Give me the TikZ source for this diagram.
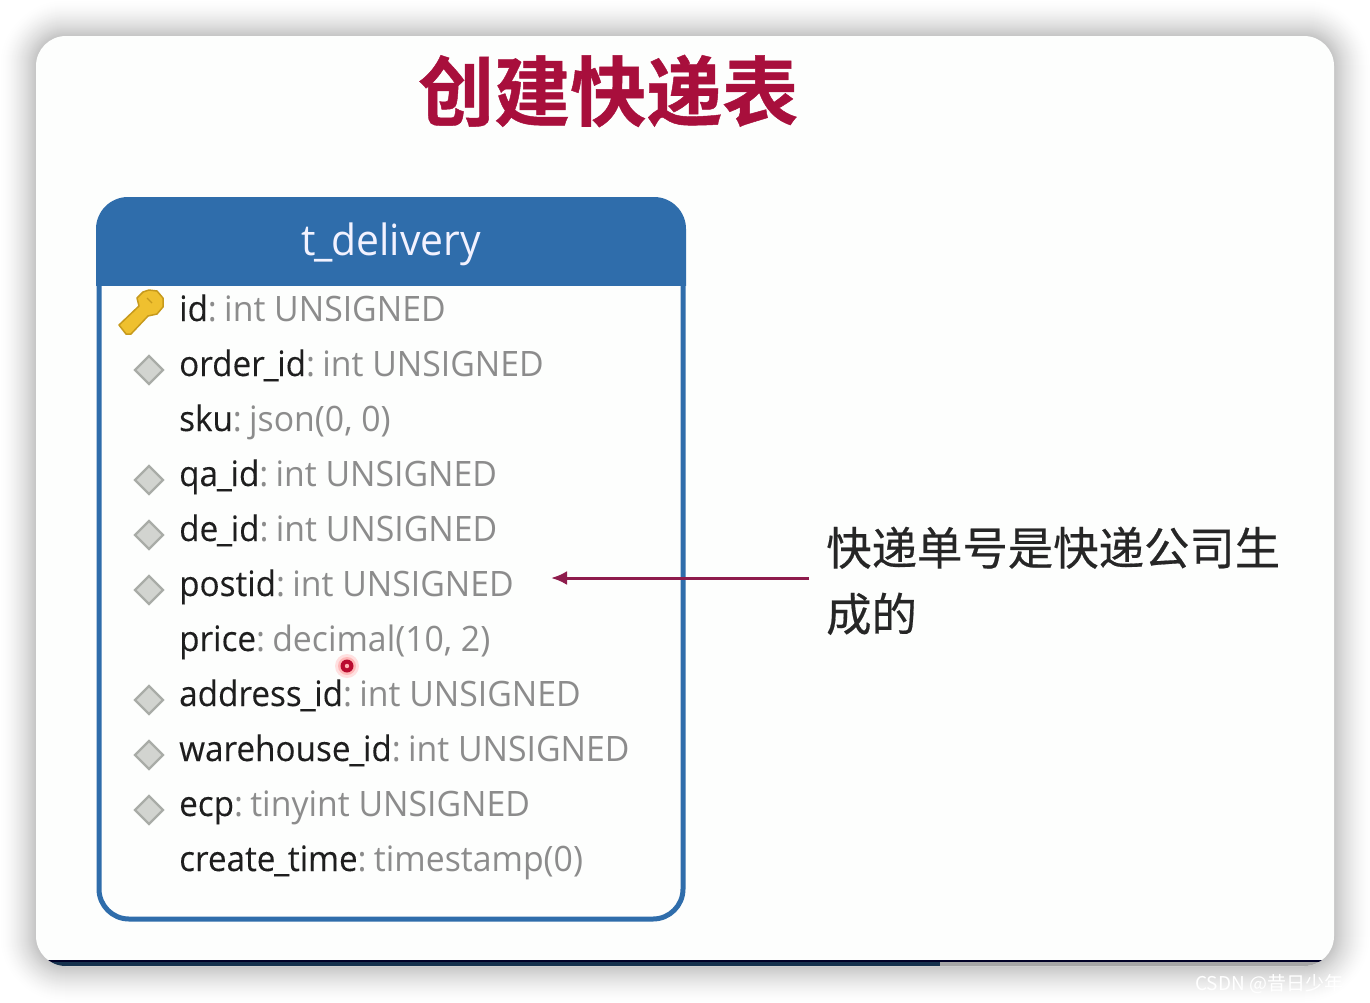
\documentclass[tikz,border=0pt]{standalone}
\usepackage{fontspec}
\setmainfont{Open Sans}
\newfontfamily\namef[FakeStretch=0.95,FakeBold=0.15]{Open Sans}
\newfontfamily\headf[FakeStretch=0.95]{Open Sans}
\newfontfamily\typef[FakeStretch=0.965]{Open Sans}
\newfontfamily\cjk[FakeBold=0.4]{Noto Sans CJK SC}
\newfontfamily\cjkw{Noto Sans CJK SC}
\newfontfamily\cjkb[FakeBold=0.6]{Noto Sans CJK SC Bold}
\definecolor{cardc}{HTML}{FDFEFD}
\definecolor{tblue}{HTML}{2F6DAB}
\definecolor{crim}{HTML}{A80F3C}
\definecolor{arrowc}{HTML}{8E1C4C}
\definecolor{namec}{HTML}{1E1E1E}
\definecolor{typec}{HTML}{8C8C8C}
\definecolor{diamf}{HTML}{D2D4D0}
\definecolor{diamd}{HTML}{A9ACA7}
\definecolor{keyf}{HTML}{EFC02F}
\definecolor{keyd}{HTML}{C79A1C}
\tikzset{
  x=1pt,y=-1pt,
  rowtext/.style={anchor=base west,inner sep=0pt,font=\fontsize{35}{40}\selectfont,text=namec},
  fk/.style={diamond,minimum width=29pt,minimum height=29pt,inner sep=0pt,fill=diamf,draw=diamd,line width=2.4pt},
  note/.style={anchor=base west,inner sep=0pt,font=\cjk\fontsize{45.4}{50}\selectfont,text=black!85},
}
\usetikzlibrary{shapes.geometric,arrows.meta}
\newcommand{\us}{\kern-1.2pt\_\kern-1.2pt}
\newcommand{\rw}[2]{{\namef #1}\textcolor{typec}{\typef:\ \kern-1.5pt #2}}
\begin{document}
\begin{tikzpicture}
\useasboundingbox (0,0) rectangle (1370,1002);
\fill[white] (0,0) rectangle (1370,1002);
% soft shadow
\foreach \k in {0,1,...,35}{
  \pgfmathsetmacro{\off}{36-\k}
  \definecolor{shc}{gray}{\fpeval{1-0.22*((\k+1)/36)^1.6}}
  \fill[shc,rounded corners={(30+\off)*1pt}] ({36-\off},{36-\off}) rectangle ({1334+\off},{966+\off});
}
% card
\fill[cardc,rounded corners=30pt] (36,36) rectangle (1334,966);
\begin{scope}
  \clip[rounded corners=30pt] (36,36) rectangle (1334,966);
  \fill[gray!70] (36,962) rectangle (1334,966);
  \fill[black!85!blue] (36,960) rectangle (1334,962);
  \fill[black!55!tblue] (36,962) rectangle (940,966);
\end{scope}
% title
\node[name=title,anchor=base west,inner sep=0pt,font=\cjkb\fontsize{76}{80}\selectfont,text=crim] at (418,120) {创建快递表};
% table
\draw[tblue,line width=5pt,rounded corners=30pt,fill=cardc] (99,200) rectangle (683,919);
\begin{scope}
  \clip (90,190) rectangle (690,285);
  \fill[tblue,rounded corners=32pt] (96,197) rectangle (686,400);
\end{scope}
\node[name=header,inner sep=0pt,text=white!95!blue,font=\headf\fontsize{43}{48}\selectfont,anchor=base] at (391,255) {t\us delivery};
% rows
\node[rowtext,name=r1] at (179,321) {\rw{id}{int UNSIGNED}};
\node[rowtext,name=r2] at (179,376) {\rw{order\us id}{int UNSIGNED}};
\node[rowtext,name=r3] at (179,431) {\rw{sku}{json(0, 0)}};
\node[rowtext,name=r4] at (179,486) {\rw{qa\us id}{int UNSIGNED}};
\node[rowtext,name=r5] at (179,541) {\rw{de\us id}{int UNSIGNED}};
\node[rowtext,name=r6] at (179,596) {\rw{postid}{int UNSIGNED}};
\node[rowtext,name=r7] at (179,651) {\rw{price}{decimal(10, 2)}};
\node[rowtext,name=r8] at (179,706) {\rw{address\us id}{int UNSIGNED}};
\node[rowtext,name=r9] at (179,761) {\rw{warehouse\us id}{int UNSIGNED}};
\node[rowtext,name=r10] at (179,816) {\rw{ecp}{tinyint UNSIGNED}};
\node[rowtext,name=r11] at (179,871) {\rw{create\us time}{timestamp(0)}};
% foreign-key diamonds
\foreach \n/\yy in {d2/370,d4/480,d5/535,d6/590,d8/700,d9/755,d10/810}{
  \node[fk,name=\n] at (149,\yy) {};
}
% key icon
\draw[keyd,line width=1.5pt,fill=keyf,line join=round]
  (119,325) -- (139,306) -- (137,298) -- (143,292) -- (149,290) -- (157,291) -- (163,298) -- (163,307) -- (157,314) -- (148,316) -- (131,334) -- (126,334) -- cycle;
\draw[keyd,line width=1.2pt] (147,298) -- (152,303);
% annotation
\node[note,name=n1] at (826,565) {快递单号是快递公司生};
\node[note,name=n2] at (826,631) {成的};
\coordinate (af) at (809,578);
\coordinate (at) at (551,578);
\draw[arrowc,line width=3pt,-{Latex[length=16pt,width=14pt]}] (af) -- (at);
% pointer dot
\fill[red!12] (347,666) circle (12);
\fill[red!28] (347,666) circle (9);
\fill[crim!80!red] (347,666) circle (6.5);
\fill[white!70!red] (347,666) circle (2.2);
% watermark
\node[name=wm,anchor=base west,inner sep=0pt,text=white,font=\cjkw\fontsize{19}{22}\selectfont] at (1195,990) {CSDN @昔日少年};
\end{tikzpicture}
\end{document}
